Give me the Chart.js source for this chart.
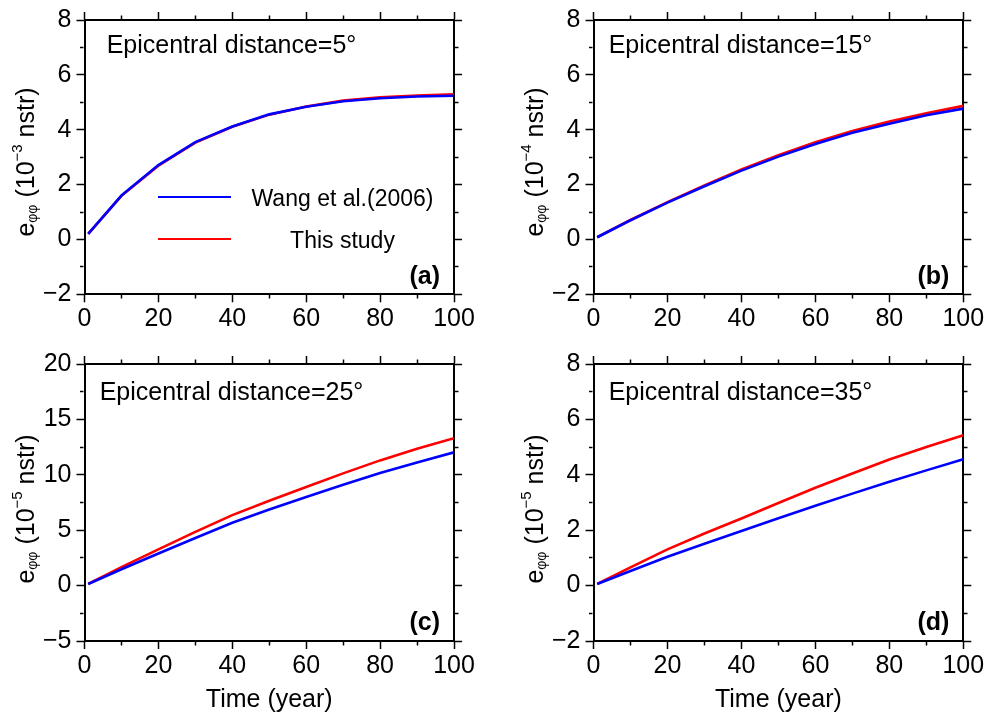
<!DOCTYPE html>
<html>
<head>
<meta charset="utf-8">
<script src="https://cdn.jsdelivr.net/npm/chart.js@4.4.1/dist/chart.umd.min.js"></script>
<style>
  body { margin: 0; background: #fff; }
  #wrap { position: relative; width: 989px; height: 713px; overflow: hidden;
          font-family: "Liberation Sans", Arial, Helvetica, sans-serif; color: #000; }
  canvas { position: absolute; }
  .lbl { position: absolute; white-space: nowrap; font-size: 25px; line-height: 25px; }
  .title { transform: translateX(-50%); }
  .tag { font-weight: bold; font-size: 25px; line-height: 25px; transform: translateX(-100%); }
  .ylab { transform: translate(-50%, -50%) rotate(-90deg); }
  .ylab sub { font-size: 14px; vertical-align: -3px; line-height: 0; }
  .ylab sup { font-size: 15px; vertical-align: 12px; line-height: 0; }
  .key { position: absolute; height: 2.5px; width: 73px; }
  .keytxt { position: absolute; white-space: nowrap; font-size: 23px; line-height: 23px; transform: translateX(-50%); }
</style>
</head>
<body>
<div id="wrap">
  <canvas id="pa" width="494" height="340" style="left:0px;top:0px"></canvas>
  <canvas id="pb" width="495" height="340" style="left:494px;top:0px"></canvas>
  <canvas id="pc" width="494" height="373" style="left:0px;top:340px"></canvas>
  <canvas id="pd" width="495" height="373" style="left:494px;top:340px"></canvas>
</div>
<script>
var family = '"Liberation Sans", Arial, Helvetica, sans-serif';

// time (year)
var years = [1, 10, 20, 30, 40, 50, 60, 70, 80, 90, 100];

// (a) epicentral distance 5 deg, 10^-3 nstr
var wang5 = [0.2, 1.6, 2.71, 3.55, 4.12, 4.56, 4.84, 5.04, 5.15, 5.21, 5.24];
var ours5 = [0.2, 1.59, 2.69, 3.53, 4.11, 4.55, 4.85, 5.06, 5.18, 5.25, 5.29];

// (b) 15 deg, 10^-4 nstr
var wang15 = [0.08, 0.7, 1.34, 1.94, 2.51, 3.02, 3.48, 3.89, 4.22, 4.53, 4.77];
var ours15 = [0.08, 0.71, 1.36, 1.97, 2.55, 3.07, 3.54, 3.95, 4.3, 4.6, 4.87];

// (c) 25 deg, 10^-5 nstr
var wang25 = [0.15, 1.47, 2.9, 4.3, 5.67, 6.87, 8.0, 9.1, 10.17, 11.12, 12.03];
var ours25 = [0.15, 1.66, 3.27, 4.85, 6.36, 7.66, 8.9, 10.13, 11.3, 12.35, 13.3];

// (d) 35 deg, 10^-5 nstr
var wang35 = [0.06, 0.53, 1.04, 1.51, 1.97, 2.43, 2.88, 3.32, 3.75, 4.16, 4.56];
var ours35 = [0.06, 0.66, 1.31, 1.88, 2.42, 2.98, 3.53, 4.05, 4.55, 5.0, 5.43];

// labelled ticks
var xLabels = [0, 20, 40, 60, 80, 100];
var yLabels8 = [-2, 0, 2, 4, 6, 8];
var yLabels20 = [-5, 0, 5, 10, 15, 20];

var seriesNames = ['Wang et al.(2006)', 'This study'];
var distances = [5, 15, 25, 35];
var exponents = [-3, -4, -5, -5];
var tags = ['(a)', '(b)', '(c)', '(d)'];

function isMajor(list, v) {
  for (var i = 0; i < list.length; i++) {
    if (Math.abs(list[i] - v) < 1e-9) return true;
  }
  return false;
}

function fmt(v) {
  return v < 0 ? '\u2212' + (-v) : String(v);
}

function pairs(xs, ys) {
  var out = [];
  for (var i = 0; i < xs.length; i++) out.push({ x: xs[i], y: ys[i] });
  return out;
}

// tick marks outside the frame; minor ones are shortened with a dash
function axisGrid(major, inward) {
  return {
    drawOnChartArea: false,
    drawTicks: true,
    tickLength: 8,
    tickColor: '#000',
    tickWidth: 1.5,
    tickBorderDash: function (c) {
      return c.tick && isMajor(major, c.tick.value) ? [] : [3.5, 100];
    },
    tickBorderDashOffset: function (c) {
      if (c.tick && isMajor(major, c.tick.value)) return 0;
      return inward ? -3.5 : 0;
    }
  };
}

var frame = { display: true, color: '#000', width: 2 };

function makePanel(id, g, yMin, yMax, yStep, yMajor, wang, ours, withTitle) {
  var tickFont = { family: family, size: 25 };
  return new Chart(document.getElementById(id), {
    type: 'line',
    data: {
      datasets: [
        { label: seriesNames[0], data: pairs(years, wang), borderColor: '#0000ff', borderWidth: 2.6 },
        { label: seriesNames[1], data: pairs(years, ours), borderColor: '#ff0000', borderWidth: 2.6 }
      ]
    },
    options: {
      responsive: false,
      animation: false,
      layout: { padding: { top: g.T - g.top, right: g.left + g.w - g.R, left: 0, bottom: 0 } },
      plugins: { legend: { display: false }, tooltip: { enabled: false } },
      elements: { point: { radius: 0 }, line: { tension: 0 } },
      scales: {
        x: {
          type: 'linear', position: 'bottom', min: 0, max: 100,
          ticks: {
            stepSize: 10, autoSkip: false, maxRotation: 0, padding: 2, color: '#000', font: tickFont,
            callback: function (v) { return isMajor(xLabels, v) ? fmt(v) : ''; }
          },
          grid: axisGrid(xLabels, false),
          border: frame,
          title: {
            display: withTitle, text: 'Time (year)', color: '#000',
            font: { family: family, size: 25, lineHeight: 1 }, padding: { top: 0, bottom: 0 }
          },
          afterFit: function (s) { s.height = g.top + g.h - g.B; }
        },
        xTop: {
          axis: 'x', type: 'linear', position: 'top', min: 0, max: 100,
          ticks: { display: false, stepSize: 10 },
          grid: axisGrid(xLabels, true),
          border: frame,
          afterFit: function (s) { s.height = 0; }
        },
        y: {
          type: 'linear', position: 'left', min: yMin, max: yMax,
          ticks: {
            stepSize: yStep, autoSkip: false, padding: 5, color: '#000', font: tickFont,
            callback: function (v) { return isMajor(yMajor, v) ? fmt(v) : ''; }
          },
          grid: axisGrid(yMajor, true),
          border: frame,
          afterFit: function (s) { s.width = g.L - g.left; }
        },
        yRight: {
          axis: 'y', type: 'linear', position: 'right', min: yMin, max: yMax,
          ticks: { display: false, stepSize: yStep },
          grid: axisGrid(yMajor, false),
          border: frame,
          afterFit: function (s) { s.width = 0; }
        }
      }
    }
  });
}

// plot frames in page pixels
var geo = [
  { left: 0,   top: 0,   w: 494, h: 340, L: 84.5,  R: 454,   T: 16.7, B: 294.3 },
  { left: 494, top: 0,   w: 495, h: 340, L: 593.5, R: 963.3, T: 16.7, B: 294.3 },
  { left: 0,   top: 340, w: 494, h: 373, L: 84.5,  R: 454,   T: 364,  B: 641 },
  { left: 494, top: 340, w: 495, h: 373, L: 593.5, R: 963.3, T: 364,  B: 641 }
];

makePanel('pa', geo[0], -2, 8, 1, yLabels8, wang5, ours5, false);
makePanel('pb', geo[1], -2, 8, 1, yLabels8, wang15, ours15, false);
makePanel('pc', geo[2], -5, 20, 2.5, yLabels20, wang25, ours25, true);
makePanel('pd', geo[3], -2, 8, 1, yLabels8, wang35, ours35, true);

// text overlays
var wrap = document.getElementById('wrap');
function addDiv(cls, html, x, y) {
  var d = document.createElement('div');
  d.className = cls;
  d.innerHTML = html;
  d.style.left = x + 'px';
  d.style.top = y + 'px';
  wrap.appendChild(d);
  return d;
}

for (var i = 0; i < geo.length; i++) {
  var g = geo[i];
  addDiv('lbl title', 'Epicentral distance=' + distances[i] + '\u00b0', g.L + 147, g.T + 15.4);
  addDiv('lbl tag', tags[i], g.R - 14, g.B - 31.7);
  addDiv('lbl ylab', 'e<sub>\u03c6\u03c6</sub> (10<sup>\u2212' + (-exponents[i]) + '</sup> nstr)',
         g.L - 59.5, (g.T + g.B) / 2 + 6);
}

// legend in panel (a)
var k1 = addDiv('key', '', 158, 195.8); k1.style.background = '#0000ff';
var k2 = addDiv('key', '', 158, 237.8); k2.style.background = '#ff0000';
addDiv('keytxt', seriesNames[0], 342.5, 187.2);
addDiv('keytxt', seriesNames[1], 342.5, 228.8);
</script>
</body>
</html>
